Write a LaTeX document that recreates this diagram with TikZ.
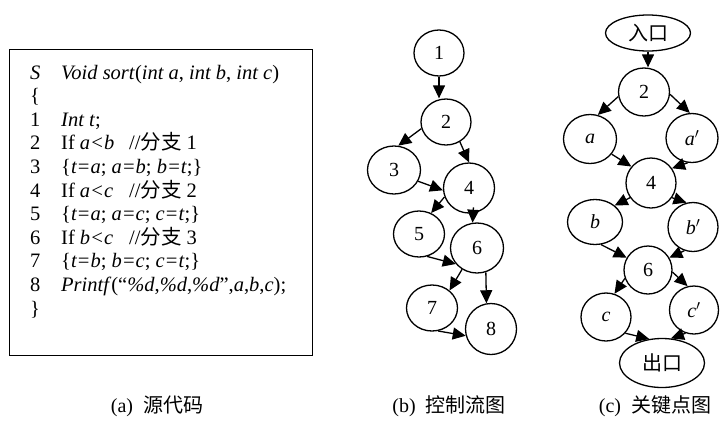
\documentclass[tikz,border=0pt]{standalone}
\usepackage{fontspec}
\setmainfont{Liberation Serif}
\newfontfamily\cjk{Noto Sans CJK SC}
\usetikzlibrary{shapes.geometric,arrows.meta}
\begin{document}
\begin{tikzpicture}[x=1pt,y=-1pt,
  nd/.style 2 args={ellipse,draw,line width=1.3pt,inner sep=0pt,minimum width=#1,minimum height=#2,font=\fontsize{20}{24}\selectfont},
  arr/.style={line width=1.3pt,-{Triangle[length=13pt,width=12pt]}},
  codetxt/.style={anchor=base west,inner sep=0pt,font=\fontsize{20.5}{24}\selectfont},
  captxt/.style={anchor=base,inner sep=0pt,font=\fontsize{20}{24}\selectfont}]
\useasboundingbox (0,0) rectangle (720,421);
% ---------- (a) source code ----------
\node[draw,line width=1.2pt,minimum width=303pt,minimum height=306pt,anchor=north west,inner sep=0pt] (box) at (9,49) {};
\node[codetxt] (n0) at (30,79) {\textit{S}};
\node[codetxt] (t0) at (61,79) {\textit{Void sort}(\textit{int a}, \textit{int b}, \textit{int c})};
\node[codetxt] (n1) at (30,102.6) {\{};
\node[codetxt] (n2) at (30,126.2) {1};
\node[codetxt] (t2) at (61,126.2) {\textit{Int t};};
\node[codetxt] (n3) at (30,149.8) {2};
\node[codetxt] (t3) at (61,149.8) {If \textit{a<b}};
\node[codetxt] (c3) at (129,149.8) {//{\cjk 分支} 1};
\node[codetxt] (n4) at (30,173.4) {3};
\node[codetxt] (t4) at (61,173.4) {\{\textit{t=a}; \textit{a=b}; \textit{b=t};\}};
\node[codetxt] (n5) at (30,197) {4};
\node[codetxt] (t5) at (61,197) {If \textit{a<c}};
\node[codetxt] (c5) at (129,197) {//{\cjk 分支} 2};
\node[codetxt] (n6) at (30,220.6) {5};
\node[codetxt] (t6) at (61,220.6) {\{\textit{t=a}; \textit{a=c}; \textit{c=t};\}};
\node[codetxt] (n7) at (30,244.2) {6};
\node[codetxt] (t7) at (61,244.2) {If \textit{b<c}};
\node[codetxt] (c7) at (129,244.2) {//{\cjk 分支} 3};
\node[codetxt] (n8) at (30,267.8) {7};
\node[codetxt] (t8) at (61,267.8) {\{\textit{t=b}; \textit{b=c}; \textit{c=t};\}};
\node[codetxt] (n9) at (30,291.4) {8};
\node[codetxt] (t9) at (61,291.4) {\textit{Printf}(“\textit{\%d},\textit{\%d},\textit{\%d}”,\textit{a},\textit{b},\textit{c});};
\node[codetxt] (n10) at (30,315) {\}};
\node[captxt] (capa) at (157,412) {(a)\hspace{10pt}{\cjk 源代码}};
% ---------- (b) control flow graph ----------
\node[nd={50pt}{46pt}] (b1) at (439,53) {1};
\node[nd={50pt}{46pt}] (b2) at (446,122) {2};
\node[nd={53pt}{48pt}] (b3) at (394,170) {3};
\node[nd={51pt}{50pt}] (b4) at (469,188) {4};
\node[nd={51pt}{46pt}] (b5) at (419,234) {5};
\node[nd={53pt}{50pt}] (b6) at (477,248) {6};
\node[nd={51pt}{46pt}] (b7) at (432,308) {7};
\node[nd={51pt}{51pt}] (b8) at (491,329) {8};
\draw[arr] (b1.south) -- (b2.north -| b1.south);
\draw[arr] (b2.195) -- (b3.80);
\draw[arr] (b2.-55) -- (b4.north);
\draw[arr] (b3.-25) -- (b4.185);
\draw[arr] (b4.200) -- (b5.60);
\draw[arr] ([yshift=6pt]b4.-80) -- (b6.100);
\draw[arr] (b5.-70) -- (b6.217);
\draw[arr] (b6.235) -- (b7.45);
\draw[arr] (b6.-70) -- (b8.100);
\draw[arr] (b7.-75) -- (b8.195);
\node[captxt] (capb) at (449,412) {(b)\hspace{10pt}{\cjk 控制流图}};
% ---------- (c) key point graph ----------
\node[nd={85pt}{36pt}] (entry) at (648,33) {\cjk 入口};
\node[nd={51pt}{48pt}] (c2) at (644,92) {2};
\node[nd={53pt}{49pt}] (ca) at (590,139) {\textit{a}};
\node[nd={52pt}{49pt}] (caa) at (692,138) {\textit{a}$'$};
\node[nd={50pt}{50pt}] (c4) at (651,183) {4};
\node[nd={55pt}{45pt}] (cb) at (595,222) {\textit{b}};
\node[nd={50pt}{49pt}] (cbb) at (693,227) {\textit{b}$'$};
\node[nd={48pt}{48pt}] (c6) at (648,270) {6};
\node[nd={50pt}{48pt}] (cc) at (606,317) {\textit{c}};
\node[nd={49pt}{48pt}] (ccc) at (694,310) {\textit{c}$'$};
\node[nd={85pt}{49pt}] (exit) at (662,363) {\cjk 出口};
\draw[arr] (entry.south) -- (c2.north -| entry.south);
\draw[arr] (c2.190) -- (ca.72);
\draw[arr] (c2.-5) -- (caa.95);
\draw[arr] (ca.-35) -- (c4.140);
\draw[arr] (caa.-100) -- (c4.35);
\draw[arr] (c4.215) -- (cb.40);
\draw[arr] (c4.-35) -- (cbb.105);
\draw[arr] (cb.-75) -- (c6.150);
\draw[arr] (cbb.-110) -- (c6.30);
\draw[arr] (c6.200) -- (cc.70);
\draw[arr] (c6.-5) -- (ccc.105);
\draw[arr] (cc.-40) -- (exit.118);
\draw[arr] (ccc.-110) -- (exit.70);
\node[captxt] (capc) at (655,412) {(c)\hspace{10pt}{\cjk 关键点图}};
\end{tikzpicture}
\end{document}
